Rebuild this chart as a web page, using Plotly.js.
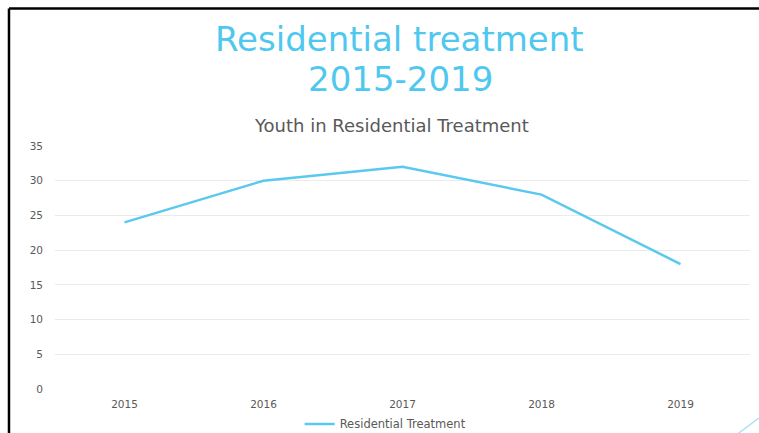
<!DOCTYPE html>
<html>
<head>
<meta charset="utf-8">
<script src="https://cdn.plot.ly/plotly-3.0.1.min.js"></script>
<style>
  html, body { margin: 0; padding: 0; background: #fff; }
  #chart { width: 759px; height: 433px; }
</style>
</head>
<body>
<div id="chart"></div>
<script>
// Yearly count of youth in residential treatment
const years = ['2015', '2016', '2017', '2018', '2019'];
const residential = [24, 30, 32, 28, 18];
const seriesName = 'Residential Treatment';
const yTicks = [0, 5, 10, 15, 20, 25, 30, 35];

const lineBlue = '#5BC9EE';
const titleBlue = '#4FC8F0';
const textGray = '#595959';
const fontFamily = 'DejaVu Sans, Verdana, sans-serif';

const trace = {
  x: years,
  y: residential,
  type: 'scatter',
  mode: 'lines',
  name: seriesName,
  line: { color: lineBlue, width: 2.5 },
  hoverinfo: 'x+y'
};

const layout = {
  width: 759,
  height: 433,
  margin: { l: 55, r: 9, t: 146, b: 44, autoexpand: false },
  paper_bgcolor: '#ffffff',
  plot_bgcolor: '#ffffff',
  font: { family: fontFamily, color: textGray, size: 10.5 },
  annotations: [
    {
      text: 'Residential treatment',
      xref: 'paper', yref: 'paper',
      x: 0.496, y: 1.442,
      xanchor: 'center', yanchor: 'middle',
      showarrow: false,
      font: { family: fontFamily, size: 34, color: titleBlue }
    },
    {
      text: '2015-2019',
      xref: 'paper', yref: 'paper',
      x: 0.497, y: 1.274,
      xanchor: 'center', yanchor: 'middle',
      showarrow: false,
      font: { family: fontFamily, size: 34, color: titleBlue }
    },
    {
      text: 'Youth in Residential Treatment',
      xref: 'paper', yref: 'paper',
      x: 0.484, y: 1.086,
      xanchor: 'center', yanchor: 'middle',
      showarrow: false,
      font: { family: fontFamily, size: 18, color: textGray }
    }
  ],
  xaxis: {
    type: 'category',
    range: [-0.5, 4.5],
    showgrid: false,
    zeroline: false,
    showline: false,
    ticks: '',
    ticklabelstandoff: 7,
    tickfont: { size: 10.5, color: textGray },
    fixedrange: true
  },
  yaxis: {
    range: [0, 35],
    tickvals: yTicks,
    showgrid: true,
    gridcolor: '#EBEBEB',
    gridwidth: 1,
    zeroline: false,
    showline: false,
    ticks: '',
    ticklen: 0,
    ticklabelstandoff: 11,
    tickfont: { size: 10.5, color: textGray },
    fixedrange: true
  },
  showlegend: true,
  legend: {
    orientation: 'h',
    x: 0.352, xanchor: 'left',
    y: -0.144, yanchor: 'middle',
    font: { size: 11.5, color: textGray },
    tracegroupgap: 0
  },
  shapes: [
    // slide frame: top and left edges
    { type: 'line', xref: 'paper', yref: 'paper', x0: -0.0662, x1: 1.02, y0: 1.566, y1: 1.566,
      line: { color: '#000000', width: 2.5 } },
    { type: 'line', xref: 'paper', yref: 'paper', x0: -0.0662, x1: -0.0662, y0: 1.566, y1: -0.19,
      line: { color: '#000000', width: 2.5 } },
    // decorative accent stroke in the lower right corner
    { type: 'line', xref: 'paper', yref: 'paper', x0: 0.982, y0: -0.185, x1: 1.015, y1: -0.115,
      line: { color: '#9EDDF3', width: 1.2 } }
  ]
};

Plotly.newPlot('chart', [trace], layout, { displayModeBar: false, staticPlot: true });
</script>
</body>
</html>
